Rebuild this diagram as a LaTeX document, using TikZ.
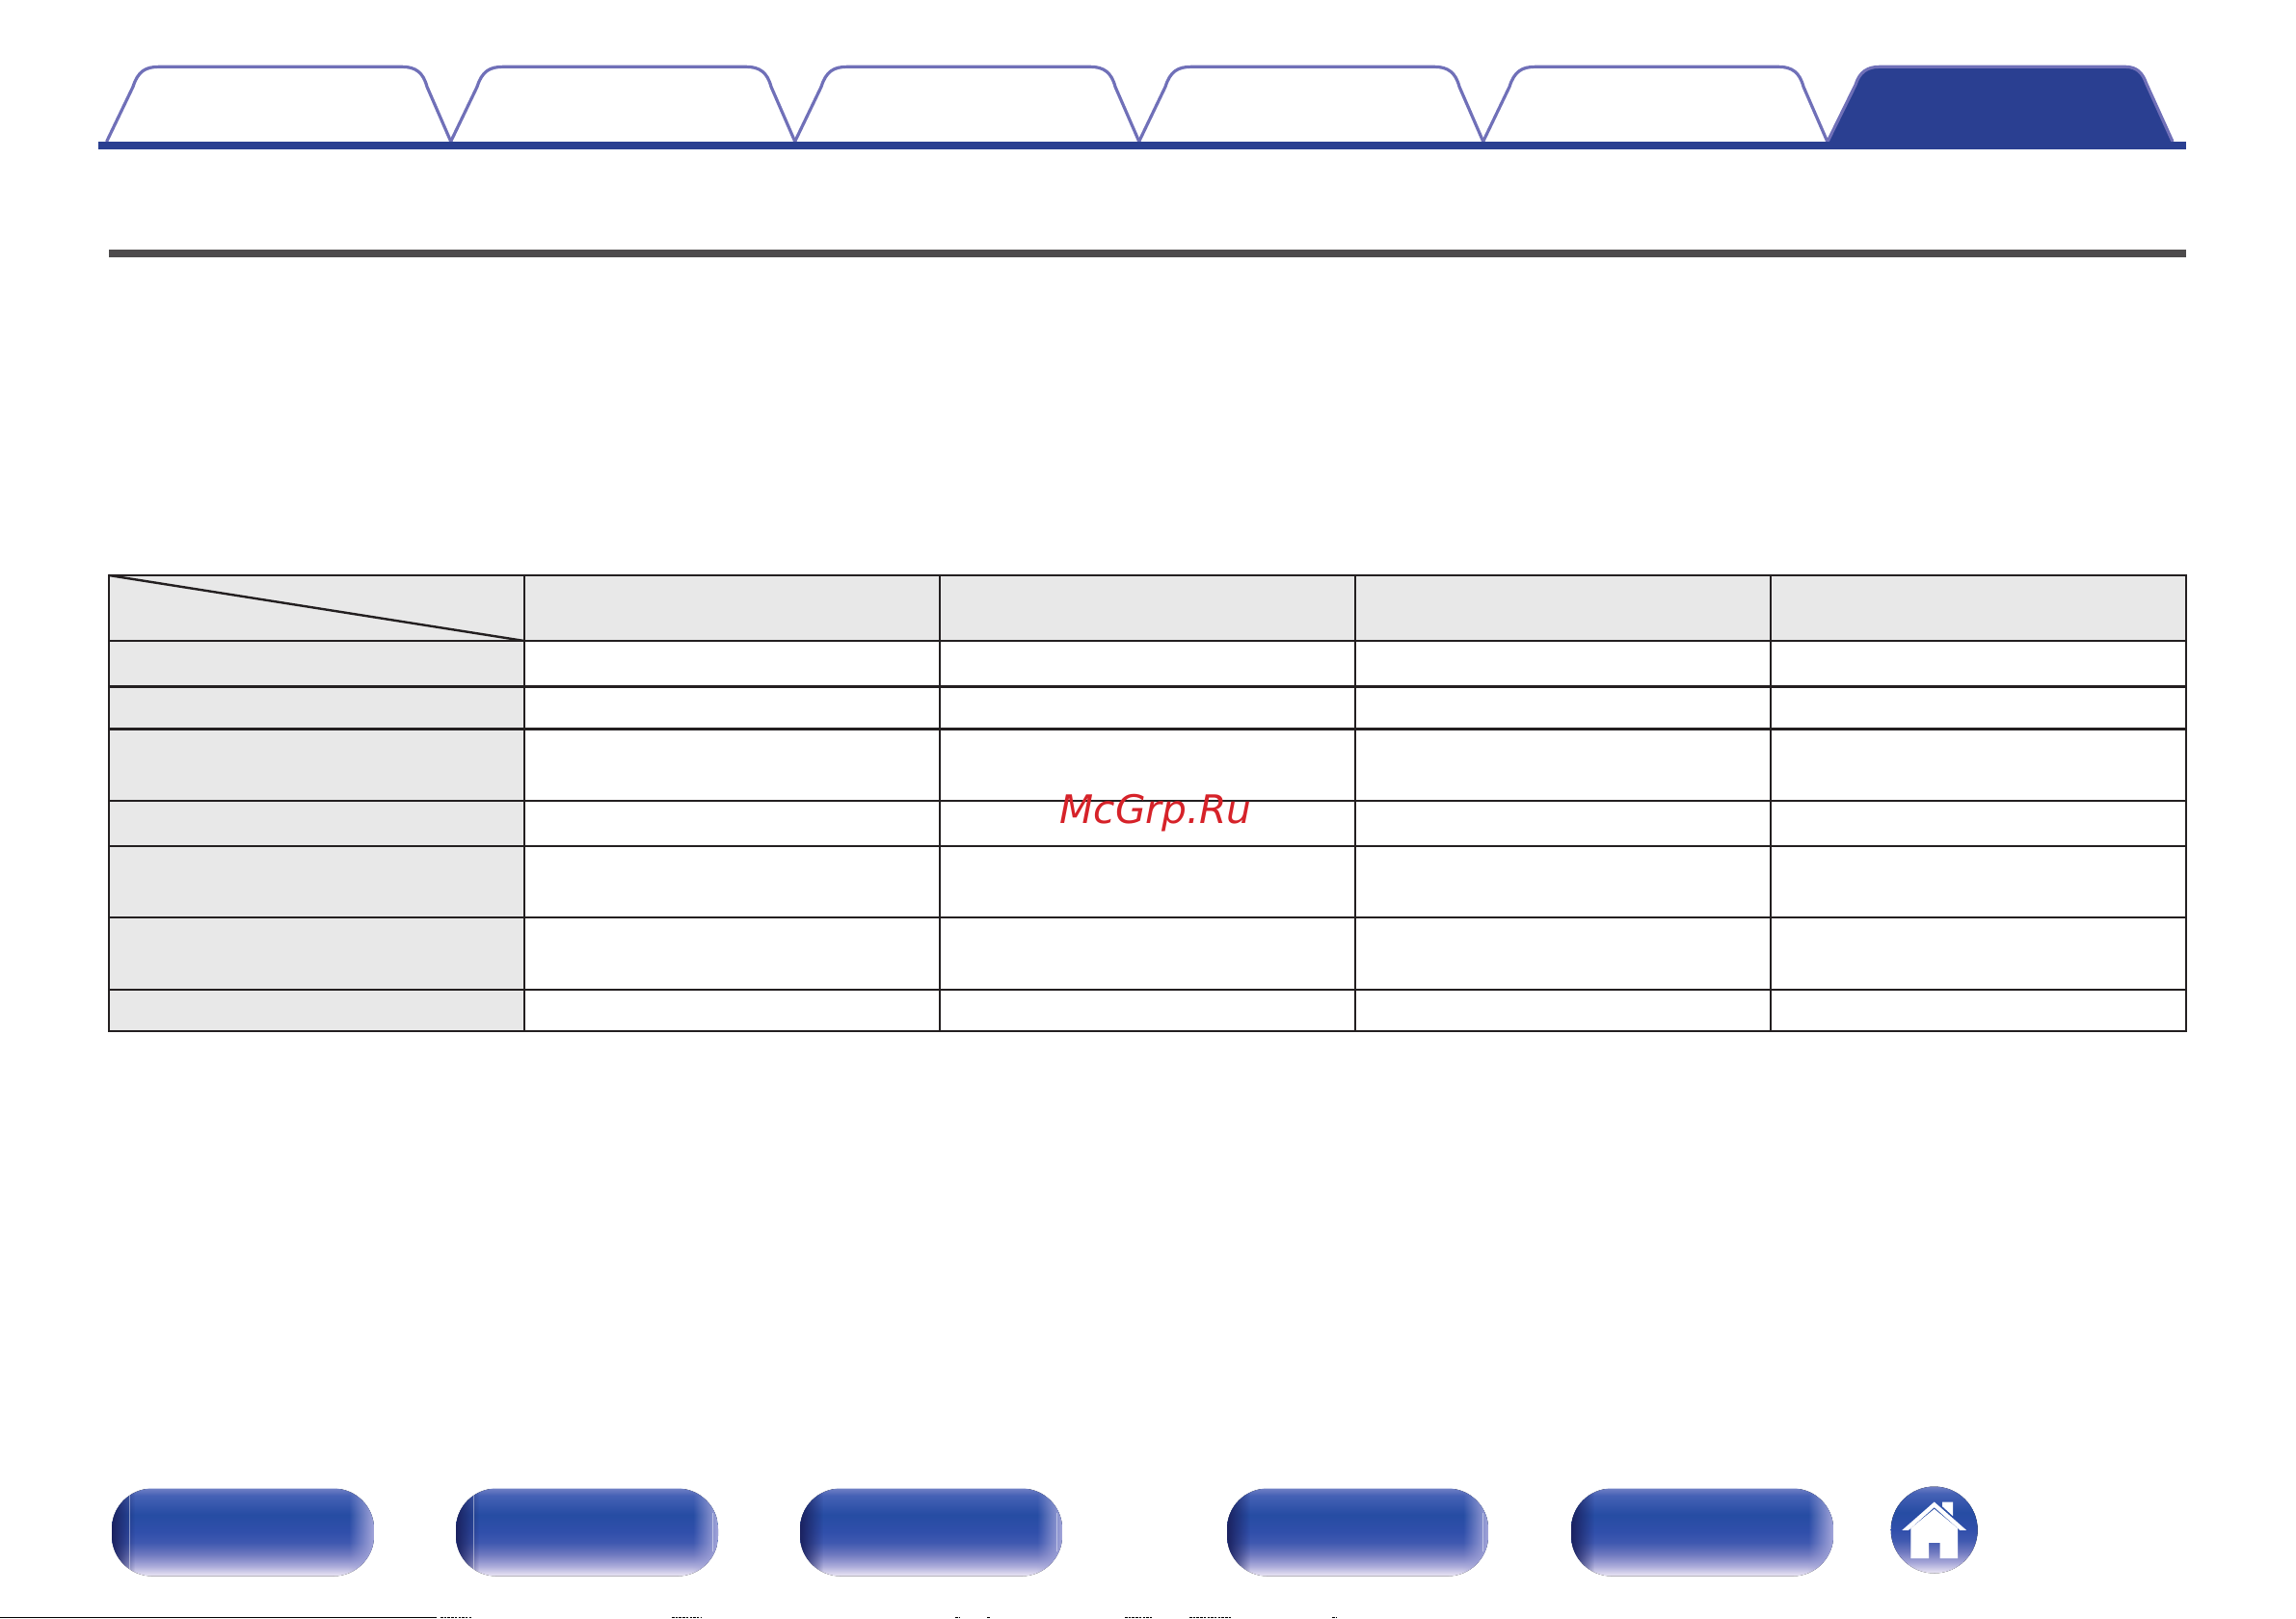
\documentclass[tikz,border=0pt]{standalone}
\usepackage{fontspec}
\newfontfamily\markfont{DejaVu Sans}
\usetikzlibrary{fadings}
\definecolor{tabline}{HTML}{7070B8}
\definecolor{tabblue}{HTML}{2A3F91}
\definecolor{rulegray}{HTML}{4D4B4C}
\definecolor{cellgray}{HTML}{E8E8E8}
\definecolor{cellline}{HTML}{231F20}
\definecolor{btndark}{HTML}{1B2260}
\definecolor{btnlight}{HTML}{A4A6DA}
\definecolor{markred}{HTML}{D62229}
\tikzfading[name=btnfaderight, left color=transparent!0, right color=transparent!100]
\tikzfading[name=btnfadeleft, left color=transparent!100, right color=transparent!0]
\pgfdeclareverticalshading{btnshade}{100bp}{
	rgb(0bp)=(0.93,0.91,0.96);
	rgb(25bp)=(0.93,0.91,0.96);
	rgb(31bp)=(0.66,0.66,0.85);
	rgb(37.5bp)=(0.43,0.47,0.75);
	rgb(44bp)=(0.25,0.35,0.69);
	rgb(50bp)=(0.19,0.31,0.67);
	rgb(60bp)=(0.15,0.30,0.64);
	rgb(71bp)=(0.27,0.38,0.71);
	rgb(75bp)=(0.44,0.50,0.77);
	rgb(100bp)=(0.44,0.50,0.77)}
\tikzset{
	tabpath/.style={draw=tabline, line width=0.032cm, line join=round},
	cellline/.style={draw=cellline, line width=0.024cm},
	btnbox/.style={rounded corners=0.42cm},
	btnline/.style={draw=white, draw opacity=0.45, line width=0.008cm},
	scanline/.style={line width=0.014cm, dash pattern=on 0.025cm off 0.012cm}
}
\begin{document}
\begin{tikzpicture}[x=1cm,y=-1cm]
	\useasboundingbox (0,0) rectangle (23.82,16.79);

	% Tabs
	\foreach \i in {0,...,4}
	{
		\draw[tabpath, xshift=\i*3.57cm] (1.106,1.47) -- (1.38,0.9) .. controls (1.43,0.74) and (1.51,0.693) .. (1.65,0.693) -- (4.17,0.693) .. controls (4.31,0.693) and (4.39,0.75) .. (4.43,0.9) -- (4.678,1.47);
	}
	%% Active tab
	\draw[tabpath, fill=tabblue] (18.96,1.47) -- (19.25,0.88) .. controls (19.29,0.75) and (19.37,0.693) .. (19.5,0.693) -- (22.05,0.693) .. controls (22.17,0.693) and (22.23,0.76) .. (22.267,0.867) -- (22.54,1.47);
	%% Bars
	\fill[tabblue] (1.02,1.47) rectangle (22.677,1.55);
	\fill[rulegray] (1.13,2.59) rectangle (22.677,2.67);

	% Table
	\fill[cellgray] (1.13,5.97) rectangle (22.68,6.65);
	\fill[cellgray] (1.13,6.65) rectangle (5.44,10.7);
	\foreach \y in {5.97,6.65,7.125,7.565,8.31,8.78,9.517,10.267,10.7}
	{
		\draw[cellline] (1.12,\y) -- (22.69,\y);
	}
	\foreach \x in {1.13,5.44,9.75,14.06,18.37,22.68}
	{
		\draw[cellline] (\x,5.96) -- (\x,10.71);
	}
	\draw[cellline] (1.13,5.97) -- (5.44,6.65);

	% Watermark
	\node[anchor=base west, inner sep=0, text=markred, font=\markfont\itshape\fontsize{11.6pt}{13pt}\selectfont] (mark) at (10.99,8.54) {McGrp.Ru};

	% Buttons
	\foreach \xa/\xb in {1.16/3.88,4.73/7.45,8.30/11.02,12.73/15.44,16.30/19.02}
	{
		\begin{scope}
			\clip[btnbox] (\xa,15.445) rectangle (\xb,16.355);
			\fill[shading=btnshade] (\xa,15.445) rectangle (\xb,16.355);
			\fill[btndark, path fading=btnfaderight] (\xa,15.445) rectangle ++(0.24,0.91);
			\fill[btnlight, path fading=btnfadeleft] (\xb,15.445) rectangle ++(-0.26,0.91);
		\end{scope}
	}
	\draw[btnline] (1.346,15.5) -- (1.346,16.3);
	\draw[btnline] (4.91,15.5) -- (4.91,16.3);
	\draw[btnline] (7.395,15.7) -- (7.395,16.1);
	\draw[btnline] (10.96,15.7) -- (10.96,16.1);
	\draw[btnline] (15.386,15.7) -- (15.386,16.1);

	% Home
	\fill[shading=btnshade] (20.067,15.875) circle (0.45);
	\fill[white] (20.067,15.585) -- (20.4,15.878) -- (20.333,15.878) -- (20.067,15.641) -- (19.8,15.878) -- (19.733,15.878) -- cycle;
	\fill[white] (20.067,15.658) -- (20.31,15.858) -- (20.31,16.171) -- (20.127,16.171) -- (20.127,16.008) -- (20.01,16.008) -- (20.01,16.171) -- (19.823,16.171) -- (19.823,15.858) -- cycle;
	\fill[white] (20.15,15.585) -- (20.26,15.585) -- (20.26,15.731) -- (20.15,15.631) -- cycle;

	% Scan line
	\fill[black] (0,16.775) rectangle (4.53,16.79);
	\foreach \xa/\xb in {4.57/4.9,6.97/7.28,9.91/9.96,10.24/10.27,11.67/11.96,12.34/12.77,13.82/13.87}
	{
		\draw[scanline] (\xa,16.782) -- (\xb,16.782);
	}
\end{tikzpicture}
\end{document}
